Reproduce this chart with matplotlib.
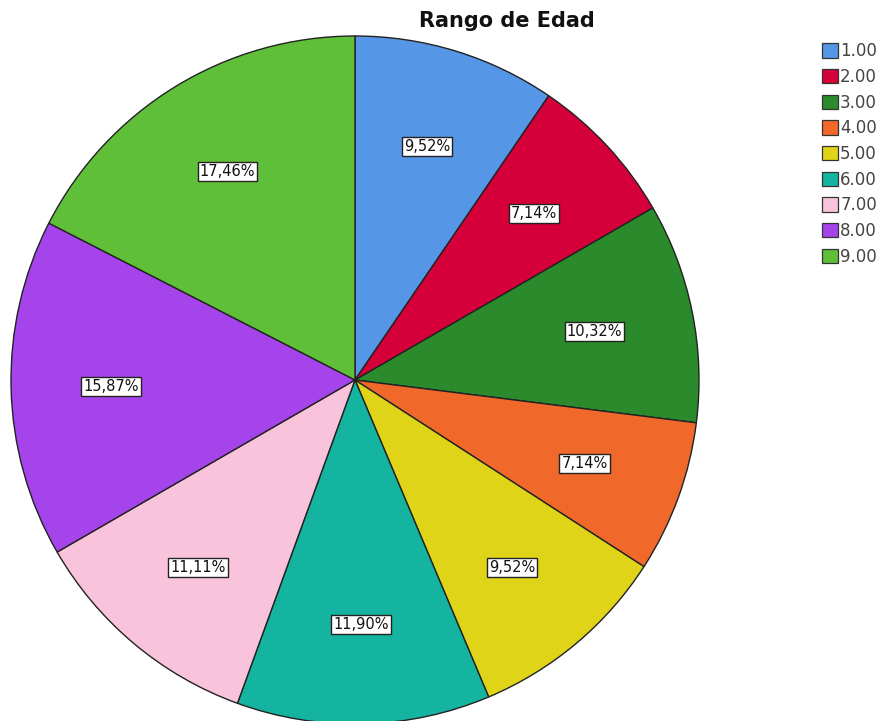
import matplotlib
matplotlib.use("Agg")
import matplotlib.pyplot as plt
from matplotlib.patches import Patch

title = "Rango de Edad"
categories = ["1.00", "2.00", "3.00", "4.00", "5.00", "6.00", "7.00", "8.00", "9.00"]
percentages = [9.52, 7.14, 10.32, 7.14, 9.52, 11.90, 11.11, 15.87, 17.46]
colors = ["#5596e6", "#d5003a", "#2b8a2b", "#f0692a", "#e0d418", "#14b4a0",
          "#f9c3dc", "#a544ea", "#5fbf38"]

W, H = 886, 721
fig = plt.figure(figsize=(W / 100, H / 100), dpi=100)
fig.patch.set_facecolor("white")

cx, cy, r = 355, 380, 344
ax = fig.add_axes([(cx - r) / W, (H - cy - r) / H, 2 * r / W, 2 * r / H])

wedges, texts = ax.pie(
    percentages, colors=colors, startangle=90, counterclock=False,
    radius=1.0, labels=[f"{p:.2f}%".replace(".", ",") for p in percentages],
    labeldistance=0.71,
    wedgeprops=dict(edgecolor="#222222", linewidth=1.0),
    textprops=dict(fontsize=10.5, color="#111111", ha="center", va="center"),
)
for t in texts:
    t.set_bbox(dict(facecolor="white", edgecolor="#222222", linewidth=1.0, pad=1.5))

ax.set_xlim(-1, 1)
ax.set_ylim(-1, 1)
ax.set_aspect("equal")
ax.axis("off")

fig.text(507 / W, 1 - 21 / H, title, ha="center", va="center",
         fontsize=15, fontweight="bold", color="#111111")

handles = [Patch(facecolor=c, edgecolor="#333333", linewidth=0.9) for c in colors]
fig.legend(handles, categories, loc="upper left",
           bbox_to_anchor=(814 / W, 1 - 34 / H), frameon=False,
           fontsize=12, handlelength=0.95, handleheight=0.95,
           handletextpad=0.12, labelspacing=0.46, borderpad=0,
           labelcolor="#444444")

fig.savefig("out.png", dpi=100, facecolor="white")
